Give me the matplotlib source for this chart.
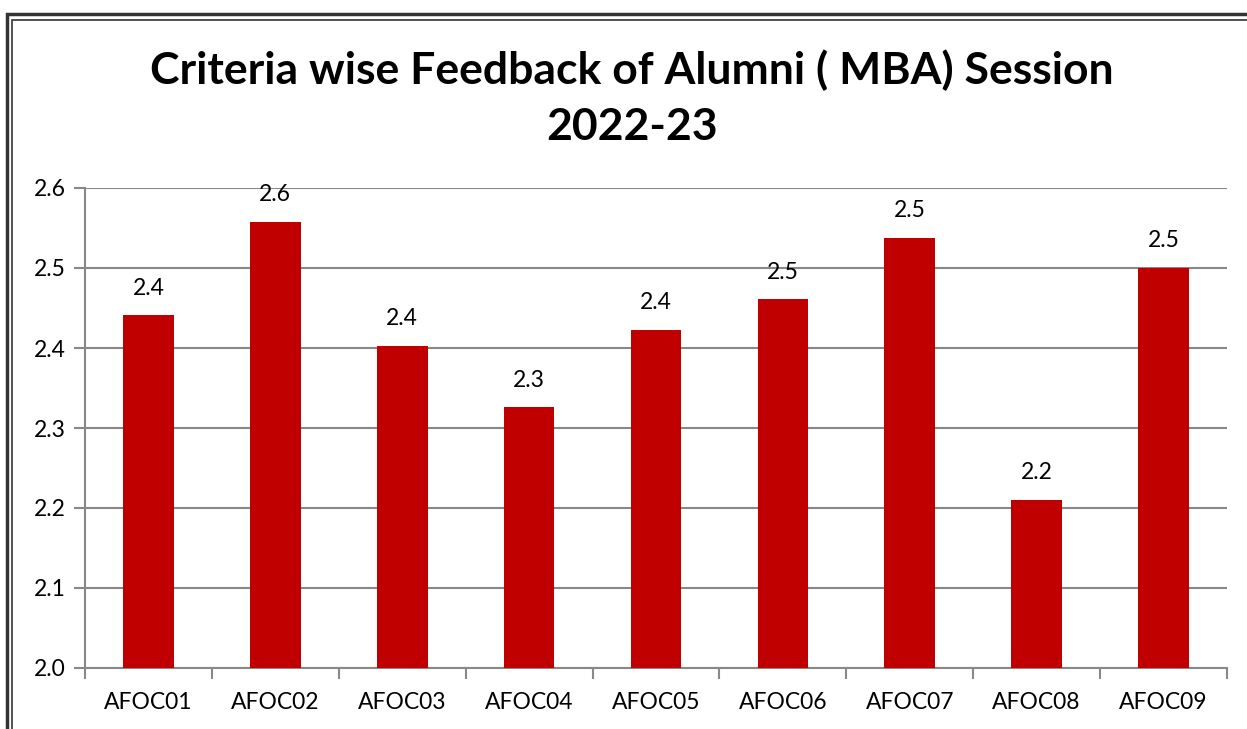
import matplotlib.pyplot as plt
import matplotlib.patches as mpatches
import numpy as np

# Criteria codes and mean feedback scores
criteria = ['AFOC01', 'AFOC02', 'AFOC03', 'AFOC04', 'AFOC05',
            'AFOC06', 'AFOC07', 'AFOC08', 'AFOC09']
scores = [2.441, 2.558, 2.403, 2.326, 2.423, 2.461, 2.538, 2.21, 2.50]
y_ticks = [2.0, 2.1, 2.2, 2.3, 2.4, 2.5, 2.6]

plt.rcParams['font.family'] = ['Lato', 'DejaVu Sans']

fig = plt.figure(figsize=(12.47, 7.29), dpi=100)
ax = fig.add_axes([85 / 1247, 1 - 668 / 729, (1227 - 85) / 1247, (668 - 188) / 729])

x = np.arange(len(criteria))
bars = ax.bar(x, scores, width=0.40, color='#C00000', zorder=3)

for b, v in zip(bars, scores):
    ax.annotate(f'{v:.1f}', (b.get_x() + b.get_width() / 2, v),
                xytext=(0, 12), textcoords='offset points',
                ha='center', va='bottom', fontsize=16.5, color='black')

ax.set_xlim(-0.5, len(criteria) - 0.5)
ax.set_ylim(2.0, 2.6)
ax.set_yticks(y_ticks)
ax.set_yticklabels([f'{t:.1f}' for t in y_ticks], fontsize=16.5)
ax.set_xticks(x)
ax.set_xticklabels(criteria, fontsize=16.5)
ax.tick_params(axis='x', which='major', length=0, pad=17)
ax.set_xticks(np.arange(len(criteria) + 1) - 0.5, minor=True)
ax.tick_params(axis='x', which='minor', length=8, width=1.5, color='#888888')
ax.tick_params(axis='y', length=8, width=1.5, color='#888888', pad=6)

ax.grid(axis='y', color='#888888', linewidth=1.5, zorder=0)
for s in ['top', 'right']:
    ax.spines[s].set_visible(False)
for s in ['left', 'bottom']:
    ax.spines[s].set_color('#888888')
    ax.spines[s].set_linewidth(1.5)

fig.text(632 / 1247, 1 - 98 / 729, 'Criteria wise Feedback of Alumni ( MBA) Session\n2022-23',
         ha='center', va='center', fontsize=32, fontweight='bold', linespacing=1.5)

# double frame around the chart area
W, H = 1247, 729
outer = mpatches.Rectangle((7 / W, -0.1), 1.2, 1 - 14 / H + 0.1, transform=fig.transFigure,
                           fill=False, edgecolor='#333333', linewidth=2.5)
inner = mpatches.Rectangle((11.5 / W, -0.1), 1.2, 1 - 19.5 / H + 0.1, transform=fig.transFigure,
                           fill=False, edgecolor='#333333', linewidth=1.2)
fig.patches.extend([outer, inner])

fig.savefig('out.png', dpi=100)
